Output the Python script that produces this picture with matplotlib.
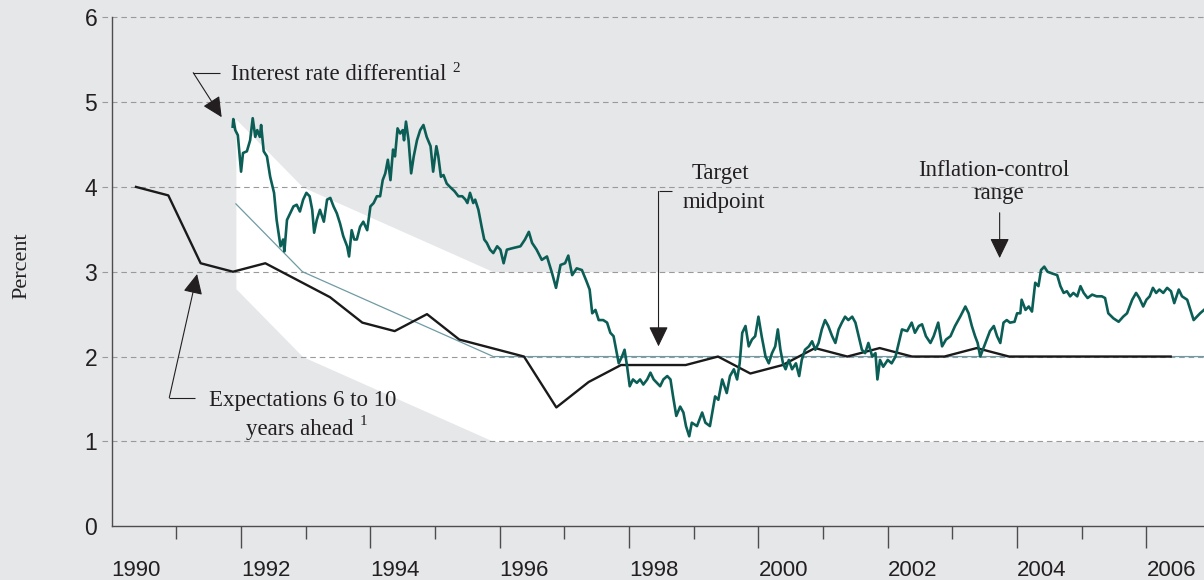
import matplotlib
matplotlib.use("Agg")
import matplotlib.pyplot as plt
from matplotlib.ticker import FixedLocator

# interest rate differential (percent)
diff_years = [1991.87, 1991.88, 1991.91, 1991.95, 1992.00, 1992.03, 1992.09, 1992.14, 1992.18, 1992.22,
              1992.25, 1992.29, 1992.31, 1992.35, 1992.40, 1992.45, 1992.51, 1992.55, 1992.61, 1992.65,
              1992.67, 1992.71, 1992.76, 1992.81, 1992.86, 1992.91, 1992.96, 1993.01, 1993.06, 1993.10,
              1993.13, 1993.17, 1993.22, 1993.28, 1993.33, 1993.38, 1993.43, 1993.48, 1993.53, 1993.58,
              1993.64, 1993.67, 1993.71, 1993.75, 1993.79, 1993.84, 1993.89, 1993.95, 1994.00, 1994.05,
              1994.10, 1994.15, 1994.19, 1994.23, 1994.27, 1994.31, 1994.35, 1994.38, 1994.42, 1994.46,
              1994.50, 1994.52, 1994.55, 1994.59, 1994.63, 1994.67, 1994.72, 1994.77, 1994.82, 1994.87,
              1994.93, 1994.97, 1995.02, 1995.05, 1995.09, 1995.13, 1995.18, 1995.23, 1995.30, 1995.36,
              1995.42, 1995.47, 1995.50, 1995.54, 1995.59, 1995.62, 1995.67, 1995.72, 1995.76, 1995.80,
              1995.85, 1995.90, 1995.96, 1996.01, 1996.06, 1996.11, 1996.21, 1996.32, 1996.39, 1996.45,
              1996.50, 1996.57, 1996.65, 1996.73, 1996.81, 1996.87, 1996.94, 1997.01, 1997.06, 1997.12,
              1997.19, 1997.27, 1997.34, 1997.39, 1997.43, 1997.48, 1997.53, 1997.60, 1997.66, 1997.71,
              1997.76, 1997.80, 1997.84, 1997.89, 1997.93, 1997.97, 1998.01, 1998.06, 1998.12, 1998.17,
              1998.22, 1998.28, 1998.33, 1998.38, 1998.43, 1998.48, 1998.53, 1998.59, 1998.64, 1998.68,
              1998.73, 1998.79, 1998.84, 1998.88, 1998.93, 1998.97, 1999.05, 1999.13, 1999.18, 1999.25,
              1999.33, 1999.38, 1999.44, 1999.51, 1999.56, 1999.62, 1999.67, 1999.71, 1999.75, 1999.80,
              1999.85, 1999.90, 1999.95, 2000.00, 2000.05, 2000.11, 2000.16, 2000.21, 2000.26, 2000.30,
              2000.34, 2000.38, 2000.42, 2000.47, 2000.52, 2000.58, 2000.63, 2000.67, 2000.72, 2000.78,
              2000.83, 2000.88, 2000.93, 2000.98, 2001.03, 2001.08, 2001.14, 2001.19, 2001.24, 2001.29,
              2001.34, 2001.39, 2001.45, 2001.50, 2001.55, 2001.60, 2001.65, 2001.70, 2001.76, 2001.81,
              2001.84, 2001.88, 2001.93, 2002.00, 2002.06, 2002.12, 2002.17, 2002.22, 2002.30, 2002.37,
              2002.42, 2002.48, 2002.53, 2002.59, 2002.66, 2002.71, 2002.78, 2002.84, 2002.90, 2002.97,
              2003.04, 2003.12, 2003.20, 2003.25, 2003.30, 2003.35, 2003.39, 2003.43, 2003.47, 2003.53,
              2003.58, 2003.64, 2003.69, 2003.74, 2003.79, 2003.84, 2003.89, 2003.96, 2004.00, 2004.05,
              2004.07, 2004.13, 2004.18, 2004.23, 2004.28, 2004.33, 2004.37, 2004.42, 2004.47, 2004.54,
              2004.62, 2004.67, 2004.72, 2004.77, 2004.82, 2004.87, 2004.93, 2004.98, 2005.03, 2005.09,
              2005.16, 2005.23, 2005.31, 2005.36, 2005.41, 2005.49, 2005.57, 2005.64, 2005.70, 2005.78,
              2005.84, 2005.89, 2005.95, 2006.00, 2006.05, 2006.10, 2006.15, 2006.20, 2006.26, 2006.32,
              2006.38, 2006.43, 2006.50, 2006.55, 2006.63, 2006.68, 2006.73, 2006.78, 2006.83, 2006.89]
diff_values = [4.71, 4.80, 4.67, 4.61, 4.18, 4.40, 4.42, 4.55, 4.81, 4.59,
               4.67, 4.59, 4.73, 4.42, 4.36, 4.12, 3.93, 3.61, 3.30, 3.38,
               3.24, 3.61, 3.69, 3.77, 3.79, 3.71, 3.85, 3.93, 3.89, 3.73,
               3.46, 3.61, 3.73, 3.59, 3.85, 3.87, 3.77, 3.69, 3.57, 3.42,
               3.30, 3.18, 3.49, 3.38, 3.38, 3.53, 3.59, 3.49, 3.77, 3.81,
               3.89, 3.89, 4.08, 4.16, 4.32, 4.08, 4.44, 4.36, 4.69, 4.63,
               4.67, 4.55, 4.77, 4.55, 4.16, 4.36, 4.55, 4.67, 4.73, 4.59,
               4.48, 4.18, 4.48, 4.36, 4.12, 4.14, 4.04, 4.00, 3.95, 3.89,
               3.89, 3.85, 3.81, 3.93, 3.81, 3.85, 3.73, 3.53, 3.38, 3.34,
               3.26, 3.22, 3.30, 3.26, 3.10, 3.26, 3.28, 3.30, 3.38, 3.47,
               3.34, 3.26, 3.14, 3.18, 2.98, 2.81, 3.08, 3.10, 3.19, 2.96,
               3.04, 3.02, 2.89, 2.79, 2.51, 2.55, 2.43, 2.43, 2.40, 2.28,
               2.24, 2.08, 1.92, 2.00, 2.08, 1.88, 1.65, 1.73, 1.69, 1.73,
               1.67, 1.73, 1.81, 1.73, 1.69, 1.65, 1.73, 1.77, 1.73, 1.53,
               1.30, 1.41, 1.34, 1.18, 1.06, 1.22, 1.18, 1.34, 1.22, 1.18,
               1.53, 1.49, 1.73, 1.57, 1.77, 1.85, 1.73, 1.92, 2.28, 2.36,
               2.12, 2.20, 2.24, 2.47, 2.24, 2.00, 1.92, 2.04, 2.12, 2.32,
               2.08, 1.92, 1.85, 1.96, 1.85, 1.92, 1.77, 1.96, 2.08, 2.12,
               2.18, 2.08, 2.16, 2.32, 2.43, 2.36, 2.24, 2.16, 2.32, 2.40,
               2.47, 2.43, 2.47, 2.40, 2.24, 2.08, 2.04, 2.16, 2.00, 2.04,
               1.73, 1.96, 1.88, 1.96, 1.92, 2.00, 2.16, 2.32, 2.30, 2.40,
               2.28, 2.36, 2.38, 2.24, 2.16, 2.24, 2.40, 2.12, 2.20, 2.24,
               2.36, 2.47, 2.59, 2.51, 2.36, 2.24, 2.16, 2.00, 2.08, 2.20,
               2.30, 2.36, 2.24, 2.16, 2.40, 2.43, 2.40, 2.41, 2.51, 2.51,
               2.67, 2.55, 2.59, 2.53, 2.87, 2.83, 3.02, 3.06, 3.00, 2.98,
               2.96, 2.83, 2.75, 2.77, 2.71, 2.75, 2.71, 2.83, 2.75, 2.69,
               2.73, 2.71, 2.71, 2.69, 2.51, 2.45, 2.41, 2.47, 2.51, 2.67,
               2.75, 2.69, 2.59, 2.67, 2.71, 2.81, 2.75, 2.79, 2.75, 2.81,
               2.77, 2.63, 2.79, 2.71, 2.67, 2.55, 2.43, 2.47, 2.51, 2.55]

# expectations 6 to 10 years ahead (semi-annual survey)
exp_years = [1990.375, 1990.875, 1991.375, 1991.875, 1992.375, 1992.875, 1993.375, 1993.875,
             1994.375, 1994.875, 1995.375, 1995.875, 1996.375, 1996.875, 1997.375, 1997.875,
             1998.375, 1998.875, 1999.375, 1999.875, 2000.375, 2000.875, 2001.375, 2001.875,
             2002.375, 2002.875, 2003.375, 2003.875, 2004.375, 2004.875, 2005.375, 2005.875,
             2006.375]
exp_values = [4.0, 3.9, 3.1, 3.0, 3.1, 2.9, 2.7, 2.4,
              2.3, 2.5, 2.2, 2.1, 2.0, 1.4, 1.7, 1.9,
              1.9, 1.9, 2.0, 1.8, 1.9, 2.1, 2.0, 2.1,
              2.0, 2.0, 2.1, 2.0, 2.0, 2.0, 2.0, 2.0,
              2.0]

# inflation-control target: midpoint path, range is midpoint +/- 1
target_years = [1991.92, 1992.95, 1995.90, 2006.90]
target_mid = [3.8, 3.0, 2.0, 2.0]
band_half = 1.0

year_ticks = [1990, 1992, 1994, 1996, 1998, 2000, 2002, 2004, 2006]
minor_years = [1991, 1993, 1995, 1997, 1999, 2001, 2003, 2005]
pct_ticks = [0, 1, 2, 3, 4, 5, 6]

bg = '#e6e7e9'
ink = '#231f20'
green = '#0b5e56'
serif = ['Liberation Serif', 'DejaVu Serif']
sans = ['Liberation Sans', 'DejaVu Sans']

fig = plt.figure(figsize=(12.04, 5.8), dpi=100, facecolor=bg)
ax = fig.add_axes([0.0928, 0.0928, 0.9072, 0.8774], facecolor=bg)
ax.set_xlim(1990, 2006.89)
ax.set_ylim(0, 6)

# white inflation-control range
lower = [m - band_half for m in target_mid]
upper = [m + band_half for m in target_mid]
ax.fill_between(target_years, lower, upper, color='white', lw=0, zorder=1)

# dashed gridlines, running a little past the axis to the labels
for y in pct_ticks[1:]:
    ax.plot([-0.009, 1], [y, y], transform=ax.get_yaxis_transform(), color='#999a9c',
            lw=0.8, dashes=(5, 3.5), clip_on=False, zorder=2)

ax.plot(target_years, target_mid, color='#6f9ba3', lw=0.9, zorder=3)
ax.plot(exp_years, exp_values, color='#1a1a1a', lw=1.7, zorder=4)
ax.plot(diff_years, diff_values, color=green, lw=1.9, zorder=5)

# spines and ticks
for s in ['top', 'right']:
    ax.spines[s].set_visible(False)
for s in ['left', 'bottom']:
    ax.spines[s].set_color('#4d4d4f')
    ax.spines[s].set_linewidth(1.0)

ax.set_xticks(year_ticks)
ax.set_xticklabels([str(y) for y in year_ticks], fontsize=16, family=sans, color=ink, ha='left')
ax.xaxis.set_minor_locator(FixedLocator(minor_years))
ax.tick_params(axis='x', which='major', length=16, width=1.0, color='#4d4d4f', pad=8, direction='out')
ax.tick_params(axis='x', which='minor', length=9, width=1.0, color='#4d4d4f', direction='out')
ax.xaxis.get_major_ticks()[0].tick1line.set_visible(False)

ax.set_yticks(pct_ticks)
ax.set_yticklabels([str(v) for v in pct_ticks], fontsize=16.5, family=sans, color=ink)
ax.tick_params(axis='y', length=0, pad=10.5)

fig.text(21.7 / 1204, 1 - 266 / 580, 'Percent', rotation=90, ha='center', va='center',
         fontsize=16, family=serif, color=ink)

# annotations
txt = dict(fontsize=16.5, family=serif, color=ink, zorder=6)
sup = dict(fontsize=11, family=serif, color=ink, zorder=6)
ax.text(1991.84, 5.26, 'Interest rate differential', ha='left', va='baseline', **txt)
ax.text(1995.27, 5.36, '2', ha='left', va='baseline', **sup)
ax.text(1992.96, 1.413, 'Expectations 6 to 10', ha='center', va='baseline', **txt)
ax.text(1992.90, 1.08, 'years ahead', ha='center', va='baseline', **txt)
ax.text(1993.83, 1.19, '1', ha='left', va='baseline', **sup)
ax.text(1999.41, 4.09, 'Target', ha='center', va='baseline', **txt)
ax.text(1999.47, 3.75, 'midpoint', ha='center', va='baseline', **txt)
ax.text(2003.64, 4.13, 'Inflation-control', ha='center', va='baseline', **txt)
ax.text(2003.72, 3.86, 'range', ha='center', va='baseline', **txt)


def pointer(pts):
    xs = [p[0] for p in pts[:-1]]
    ys = [p[1] for p in pts[:-1]]
    if len(pts) > 2:
        ax.plot(xs, ys, color=ink, lw=0.8, zorder=6, solid_capstyle='butt')
    ax.annotate('', xy=pts[-1], xytext=pts[-2],
                arrowprops=dict(arrowstyle='-|>,head_length=0.62,head_width=0.3',
                                color=ink, lw=0.8, shrinkA=0, shrinkB=0, mutation_scale=20),
                zorder=6)


pointer([(1991.68, 5.347), (1991.26, 5.347), (1991.70, 4.822)])
pointer([(1991.29, 1.516), (1990.89, 1.516), (1991.32, 2.973)])
pointer([(1998.66, 3.946), (1998.455, 3.946), (1998.455, 2.12)])
pointer([(2003.73, 3.695), (2003.73, 3.161)])

fig.savefig('out.png', dpi=100, facecolor=bg)
